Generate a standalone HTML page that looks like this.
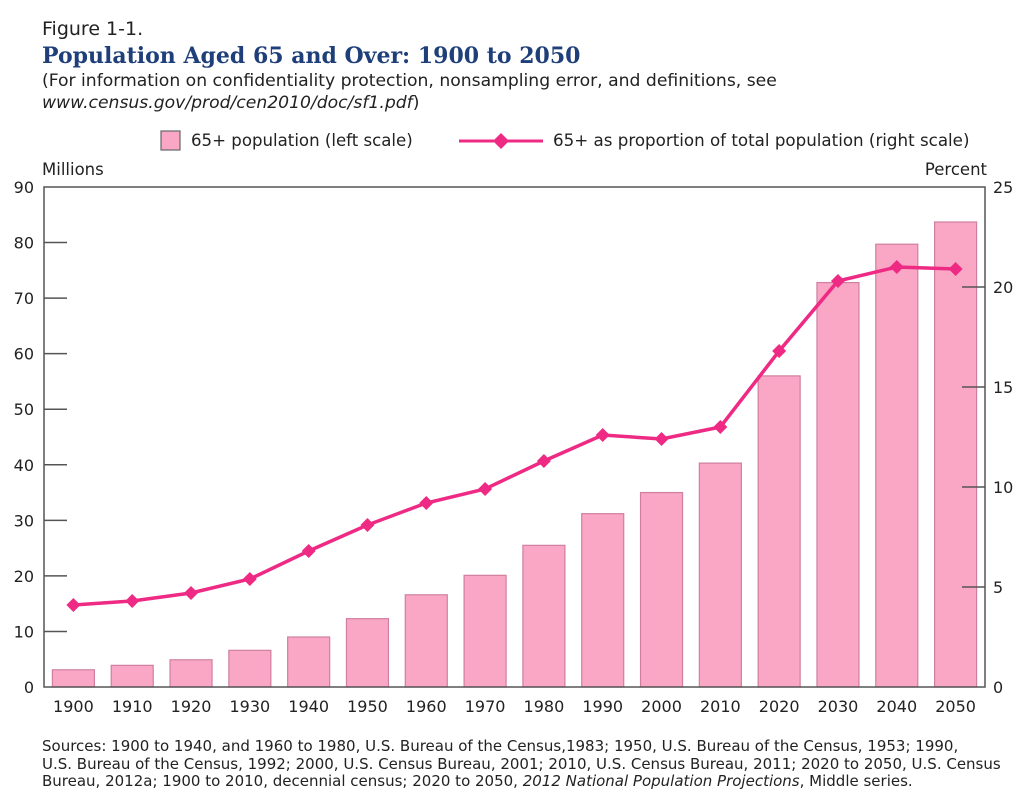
<!DOCTYPE html>
<html><head><meta charset="utf-8"><style>
body{margin:0;background:#fff;width:1024px;height:802px;overflow:hidden;font-family:"DejaVu Sans","Liberation Sans",sans-serif;color:#222}
.t{position:absolute;white-space:nowrap}
</style></head><body>
<div class="t" style="left:42px;top:18px;font-size:19px">Figure 1-1.</div>
<div class="t" style="left:42px;top:43px;font-size:22px;font-weight:bold;color:#1f3f7a;font-family:'DejaVu Serif','Liberation Serif',serif">Population Aged 65 and Over: 1900 to 2050</div>
<div class="t" style="left:42px;top:70px;font-size:17.2px;line-height:22px">(For information on confidentiality protection, nonsampling error, and definitions, see<br><i>www.census.gov/prod/cen2010/doc/sf1.pdf</i>)</div>
<svg id="c" width="1024" height="802" style="position:absolute;left:0;top:0"></svg>
<div class="t" style="left:42px;top:738px;font-size:15px;line-height:17.5px">Sources: 1900 to 1940, and 1960 to 1980, U.S. Bureau of the Census,1983; 1950, U.S. Bureau of the Census, 1953; 1990,<br>U.S. Bureau of the Census, 1992; 2000, U.S. Census Bureau, 2001; 2010, U.S. Census Bureau, 2011; 2020 to 2050, U.S. Census<br>Bureau, 2012a; 1900 to 2010, decennial census; 2020 to 2050, <i>2012 National Population Projections</i>, Middle series.</div>
<script>
const years=["1900","1910","1920","1930","1940","1950","1960","1970","1980","1990","2000","2010","2020","2030","2040","2050"];
const population=[3.1,3.9,4.9,6.6,9.0,12.3,16.6,20.1,25.5,31.2,35.0,40.3,56.0,72.8,79.7,83.7];
const percent=[4.1,4.3,4.7,5.4,6.8,8.1,9.2,9.9,11.3,12.6,12.4,13.0,16.8,20.3,21.0,20.9];
const leftTicks=[0,10,20,30,40,50,60,70,80,90];
const rightTicks=[0,5,10,15,20,25];
const svg=document.getElementById('c'),NS='http://www.w3.org/2000/svg';
const L=44,R=985,T=187,B=687;
const yL=v=>B-(v/90)*(B-T), yR=v=>B-(v/25)*(B-T);
const bw=(R-L)/years.length, xc=i=>L+bw*(i+0.5);
function mk(tag,a,txt){const e=document.createElementNS(NS,tag);for(const k in a)e.setAttribute(k,a[k]);if(txt!=null)e.textContent=txt;svg.appendChild(e);return e;}
population.forEach((v,i)=>{
 const r=mk('rect',{x:xc(i)-21,y:yL(v),width:42,height:B-yL(v),fill:'#f9a7c4',stroke:'#cf7f9f','stroke-width':1.2});
 
 
 const t=mk('text',{x:xc(i),y:712,'font-size':16,'text-anchor':'middle',fill:'#222','font-family':'DejaVu Sans,sans-serif'},years[i]);
 
 
});
const fr=mk('rect',{x:L,y:T,width:R-L,height:B-T,fill:'none',stroke:'#555','stroke-width':1.5});


leftTicks.forEach(v=>{
 if(v>0&&v<90)mk('line',{x1:L,x2:L+23,y1:yL(v),y2:yL(v),stroke:'#555','stroke-width':1.5});
 const t=mk('text',{x:34,y:yL(v)+6,'font-size':16,'text-anchor':'end',fill:'#222','font-family':'DejaVu Sans,sans-serif'},String(v));
 
 
});
rightTicks.forEach(v=>{
 if(v>0&&v<25)mk('line',{x1:R-23,x2:R,y1:yR(v),y2:yR(v),stroke:'#555','stroke-width':1.5});
 const t=mk('text',{x:993,y:yR(v)+6,'font-size':16,'text-anchor':'start',fill:'#222','font-family':'DejaVu Sans,sans-serif'},String(v));
 
 
});
const pl=mk('polyline',{points:percent.map((v,i)=>xc(i)+','+yR(v)).join(' '),fill:'none',stroke:'#ee2a84','stroke-width':3.5});


percent.forEach((v,i)=>{
 const x=xc(i),y=yR(v);
 const d=mk('polygon',{points:`${x-7},${y} ${x},${y-7} ${x+7},${y} ${x},${y+7}`,fill:'#ee2a84'});
 
 
});
let a=mk('text',{x:42,y:175,'font-size':16.5,fill:'#222','font-family':'DejaVu Sans,sans-serif'},'Millions');

a=mk('text',{x:987,y:175,'font-size':16.5,'text-anchor':'end',fill:'#222','font-family':'DejaVu Sans,sans-serif'},'Percent');

a=mk('rect',{x:161,y:131,width:19,height:19,fill:'#f9a7c4',stroke:'#666','stroke-width':1.2});

a=mk('text',{x:191,y:146,'font-size':16.6,fill:'#222','font-family':'DejaVu Sans,sans-serif'},'65+ population (left scale)');

mk('line',{x1:459,x2:543,y1:141,y2:141,stroke:'#ee2a84','stroke-width':3});
a=mk('polygon',{points:'493,141 501,133 509,141 501,149',fill:'#ee2a84'});

a=mk('text',{x:553,y:146,'font-size':16.7,fill:'#222','font-family':'DejaVu Sans,sans-serif'},'65+ as proportion of total population (right scale)');

</script>
</body></html>
